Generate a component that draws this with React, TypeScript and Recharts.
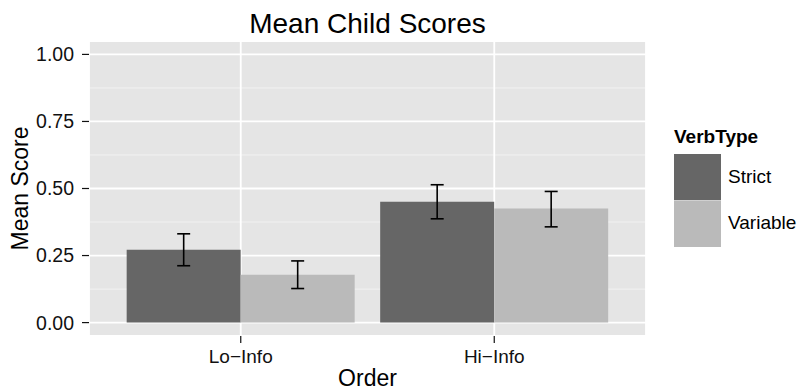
import React from 'react';
import { BarChart, Bar, XAxis, YAxis, CartesianGrid, ErrorBar } from 'recharts';

const categories = ['Lo\u2212Info', 'Hi\u2212Info'];
const seriesNames = ['Strict', 'Variable'];
const strictMeans = [0.272, 0.451];
const strictLow = [0.212, 0.387];
const strictHigh = [0.331, 0.514];
const variableMeans = [0.178, 0.425];
const variableLow = [0.127, 0.357];
const variableHigh = [0.23, 0.489];
const yTicks = [0, 0.25, 0.5, 0.75, 1];
const yMinor = [0.125, 0.375, 0.625, 0.875];
const seriesColors = ['#666666', '#bababa'];

const data = categories.map((c, i) => ({
  order: c,
  Strict: strictMeans[i],
  Variable: variableMeans[i],
  strictErr: [strictMeans[i] - strictLow[i], strictHigh[i] - strictMeans[i]],
  variableErr: [variableMeans[i] - variableLow[i], variableHigh[i] - variableMeans[i]],
}));

const FONT = '"Liberation Sans", Arial, Helvetica, sans-serif';
const W = 799;
const H = 391;
const DOMAIN: [number, number] = [-0.05, 1.05];

function minorCoords({ yAxis, offset }: any): number[] {
  const s = yAxis && yAxis.scale;
  if (typeof s === 'function') return yMinor.map((v) => s(v));
  if (s && typeof s.map === 'function') {
    try {
      const out = yMinor.map((v) => s.map(v));
      if (out.every((n) => typeof n === 'number' && isFinite(n))) return out;
    } catch (e) {}
  }
  return yMinor.map((v) => offset.top + ((DOMAIN[1] - v) / (DOMAIN[1] - DOMAIN[0])) * offset.height);
}

export default function App() {
  return (
    <div style={{ position: 'absolute', left: 0, top: 0, width: W, height: H, fontFamily: FONT, background: '#fff' }}>
      <BarChart
        width={W}
        height={H}
        data={data}
        margin={{ top: 41, right: 153, bottom: 0, left: 0 }}
        barCategoryGap="5%"
        barGap={0}
        style={{ fontFamily: FONT }}
      >
        <CartesianGrid
          vertical={false}
          fill="#e5e5e5"
          fillOpacity={1}
          stroke="#f2f2f2"
          strokeWidth={1}
          horizontalCoordinatesGenerator={minorCoords}
        />
        <CartesianGrid stroke="#ffffff" strokeWidth={1.8} />
        <XAxis
          dataKey="order"
          type="category"
          padding={{ left: 25, right: 25 }}
          axisLine={false}
          tickSize={7}
          tickMargin={7}
          height={55}
          tickLine={{ stroke: '#111', strokeWidth: 1.2 }}
          tick={{ fill: '#111', fontSize: 19, fontFamily: FONT }}
          label={{ value: 'Order', position: 'insideBottom', offset: 5, fill: '#000', fontSize: 23, fontFamily: FONT }}
        />
        <YAxis
          type="number"
          domain={DOMAIN}
          ticks={yTicks}
          allowDataOverflow
          width={89}
          axisLine={false}
          tickSize={7}
          tickMargin={8}
          tickLine={{ stroke: '#111', strokeWidth: 1.2 }}
          tickFormatter={(v: number) => v.toFixed(2)}
          tick={{ fill: '#111', fontSize: 19.5, fontFamily: FONT }}
          label={{
            value: 'Mean Score',
            angle: -90,
            position: 'insideLeft',
            offset: 20,
            fill: '#000',
            fontSize: 23,
            fontFamily: FONT,
            style: { textAnchor: 'middle' },
          }}
        />
        <Bar dataKey="Strict" fill={seriesColors[0]} isAnimationActive={false}>
          <ErrorBar dataKey="strictErr" direction="y" width={6.5} stroke="#000" strokeWidth={1.6} isAnimationActive={false} />
        </Bar>
        <Bar dataKey="Variable" fill={seriesColors[1]} isAnimationActive={false}>
          <ErrorBar dataKey="variableErr" direction="y" width={6.5} stroke="#000" strokeWidth={1.6} isAnimationActive={false} />
        </Bar>
      </BarChart>
      <div
        style={{
          position: 'absolute',
          left: 89,
          top: 10,
          width: 557,
          textAlign: 'center',
          fontSize: 28,
          lineHeight: '28px',
          color: '#000',
          whiteSpace: 'nowrap',
        }}
      >
        Mean Child Scores
      </div>
      <div style={{ position: 'absolute', left: 674, top: 127 }}>
        <div style={{ fontSize: 19, lineHeight: '19px', fontWeight: 'bold', color: '#000', whiteSpace: 'nowrap' }}>VerbType</div>
        <div style={{ position: 'absolute', top: 26.5, left: 0 }}>
          {seriesNames.map((n, i) => (
            <div key={n} style={{ display: 'flex', alignItems: 'center', height: 46.5 }}>
              <div style={{ width: 47, height: 46.5, background: seriesColors[i], borderTop: i > 0 ? '1px solid #d0d0d0' : 'none', boxSizing: 'border-box' }} />
              <div style={{ marginLeft: 7, fontSize: 19, color: '#000', whiteSpace: 'nowrap' }}>{n}</div>
            </div>
          ))}
        </div>
      </div>
    </div>
  );
}
